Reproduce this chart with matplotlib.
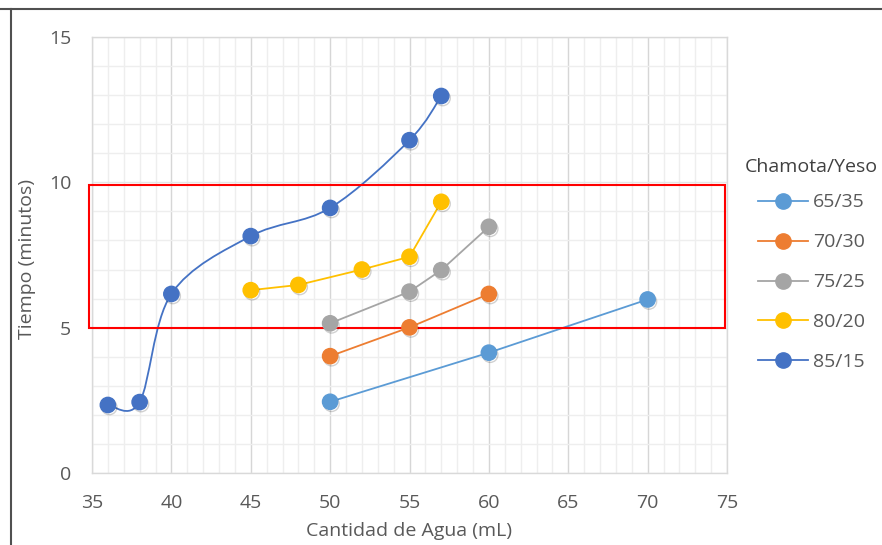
import matplotlib
matplotlib.use('Agg')
import matplotlib.pyplot as plt
import numpy as np
from matplotlib.path import Path
from matplotlib.patches import PathPatch, Rectangle
from matplotlib.lines import Line2D
from matplotlib.ticker import MultipleLocator
import matplotlib.patheffects as pe

plt.rcParams['font.family'] = ['Open Sans', 'DejaVu Sans']

# ---- data ----
series_names = ['65/35', '70/30', '75/25', '80/20', '85/15']
x_65_35 = [50, 60, 70]
y_65_35 = [2.45, 4.14, 5.97]
x_70_30 = [50, 55, 60]
y_70_30 = [4.02, 5.01, 6.16]
x_75_25 = [50, 55, 57, 60]
y_75_25 = [5.15, 6.24, 6.98, 8.47]
x_80_20 = [45, 48, 52, 55, 57]
y_80_20 = [6.29, 6.47, 7.00, 7.44, 9.33]
x_85_15 = [36, 38, 40, 45, 50, 55, 57]
y_85_15 = [2.34, 2.44, 6.16, 8.15, 9.12, 11.45, 12.97]
colors = ['#5B9BD5', '#ED7D31', '#A5A5A5', '#FFC000', '#4472C4']
x_ticks = [35, 40, 45, 50, 55, 60, 65, 70, 75]
y_ticks = [0, 5, 10, 15]
highlight_x = (34.8, 74.9)
highlight_y = (5.0, 9.9)

TXT = '#595959'
FS = 14


def smooth_path(xs, ys):
    pts = np.column_stack([xs, ys]).astype(float)
    n = len(pts)
    verts = [pts[0]]
    codes = [Path.MOVETO]
    for i in range(n - 1):
        p0 = pts[i - 1] if i > 0 else pts[i]
        p1 = pts[i]
        p2 = pts[i + 1]
        p3 = pts[i + 2] if i + 2 < n else pts[i + 1]
        c1 = p1 + (p2 - p0) / 6.0
        c2 = p2 - (p3 - p1) / 6.0
        verts += [c1, c2, p2]
        codes += [Path.CURVE4] * 3
    return Path(verts, codes)


fig = plt.figure(figsize=(8.82, 5.45), dpi=100)
ax = fig.add_axes([92 / 882, 72 / 545, 635 / 882, 436 / 545])

ax.set_xlim(35, 75)
ax.set_ylim(0, 15)
ax.set_xticks(x_ticks)
ax.set_yticks(y_ticks)
ax.xaxis.set_minor_locator(MultipleLocator(1))
ax.yaxis.set_minor_locator(MultipleLocator(1))
ax.grid(True, which='minor', color='#EEEEEE', lw=1.0)
ax.grid(True, axis='x', which='major', color='#D6D6D6', lw=1.0)
ax.grid(True, axis='y', which='major', color='#E6E6E6', lw=1.0)
ax.set_axisbelow(True)
for s in ax.spines.values():
    s.set_color('#D9D9D9')
    s.set_linewidth(1.0)
ax.tick_params(which='both', length=0)
ax.tick_params(axis='x', pad=15, labelsize=FS, labelcolor=TXT)
ax.tick_params(axis='y', pad=15, labelsize=FS, labelcolor=TXT)

shadow = [pe.SimpleLineShadow(offset=(1.0, -1.5), alpha=0.18, shadow_color='#000000'), pe.Normal()]

xs_all = [x_65_35, x_70_30, x_75_25, x_80_20, x_85_15]
ys_all = [y_65_35, y_70_30, y_75_25, y_80_20, y_85_15]

MS = 11
LW = 1.3
handles = []
for name, xs, ys, c in zip(series_names, xs_all, ys_all, colors):
    if name == '85/15':
        patch = PathPatch(smooth_path(xs, ys), facecolor='none', edgecolor=c, lw=LW, zorder=3)
        ax.add_patch(patch)
    else:
        ax.plot(xs, ys, linestyle='-', lw=LW, color=c, zorder=3)
    ax.plot(xs, ys, linestyle='none', marker='o', ms=MS, color=c, zorder=4,
            path_effects=shadow)
    handles.append(Line2D([], [], color=c, lw=LW, marker='o', ms=MS, label=name))

rect = Rectangle((highlight_x[0], highlight_y[0]), highlight_x[1] - highlight_x[0],
                 highlight_y[1] - highlight_y[0], fill=False, edgecolor='#FF0000',
                 lw=1.5, clip_on=False, zorder=3.5)
ax.add_patch(rect)

ax.set_xlabel('Cantidad de Agua (mL)', fontsize=FS, color=TXT)
ax.set_ylabel('Tiempo (minutos)', fontsize=FS, color=TXT)
ax.xaxis.set_label_coords(0.5, -0.112)
ax.yaxis.set_label_coords(-0.088, 0.49)

leg = fig.legend(handles=handles, title='Chamota/Yeso', loc='upper left',
                 bbox_to_anchor=(745 / 882, 1 - 158 / 545), frameon=False,
                 fontsize=FS, title_fontsize=FS, handlelength=2.6,
                 handletextpad=0.25, labelspacing=1.13, borderpad=0, borderaxespad=0)
leg._legend_box.sep = 12.5
for t in leg.get_texts():
    t.set_color(TXT)
leg.get_title().set_color('#404040')

# outer frame (top and left edges)
fig.add_artist(Line2D([0, 1], [1 - 9 / 545, 1 - 9 / 545], color='#505050', lw=1.5,
                      transform=fig.transFigure))
fig.add_artist(Line2D([11 / 882, 11 / 882], [0, 1 - 9 / 545], color='#505050', lw=1.5,
                      transform=fig.transFigure))

fig.savefig('out.png', dpi=100)
